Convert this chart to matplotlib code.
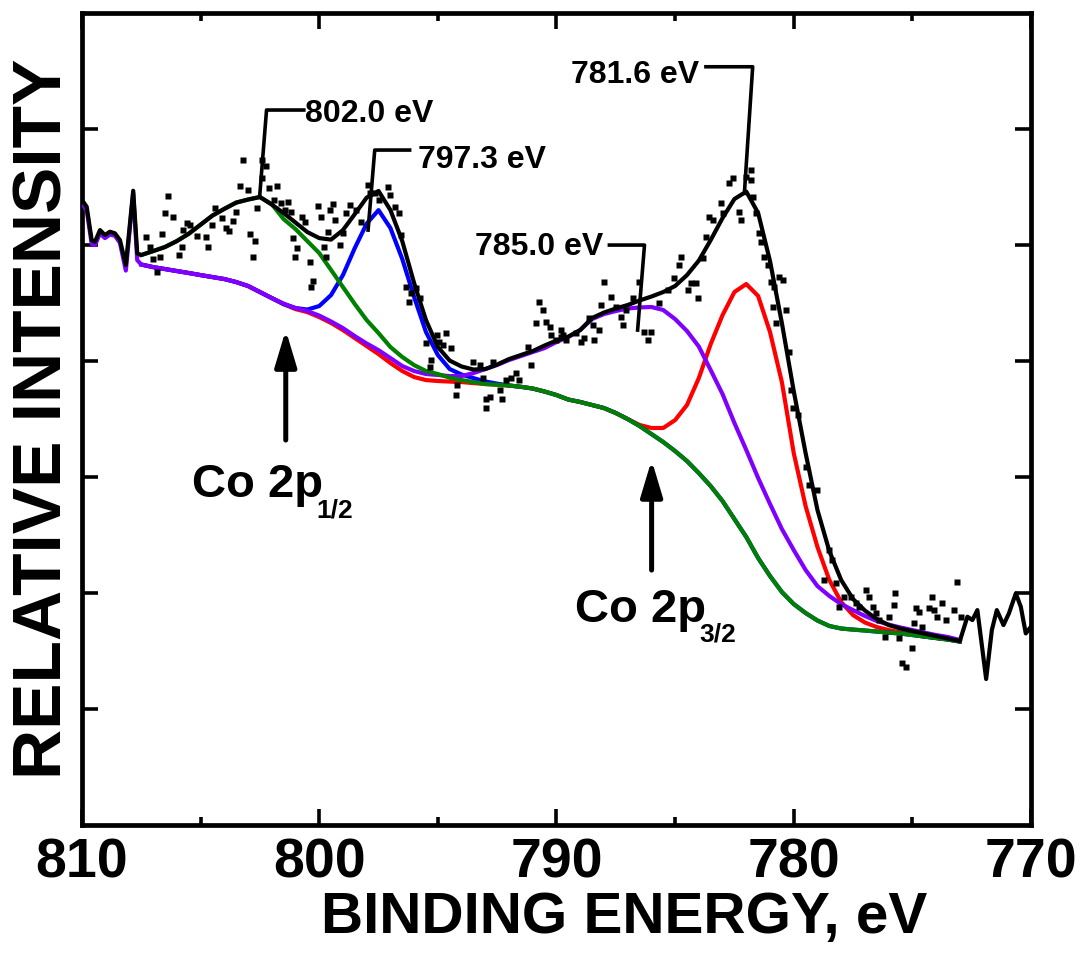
import numpy as np
import matplotlib
matplotlib.use("Agg")
import matplotlib.pyplot as plt
from matplotlib.ticker import MultipleLocator, FixedLocator

plt.rcParams['font.family'] = ['Liberation Sans', 'DejaVu Sans']
plt.rcParams['font.weight'] = 'bold'

# ---------------- data (binding energy in eV, intensity in arbitrary units) -------------
energy = [807.5, 807.0, 806.5, 806.0, 805.5, 805.0, 804.5, 804.0, 803.5, 803.0,
          802.5, 802.0, 801.5, 801.0, 800.5, 800.0, 799.5, 799.0, 798.5, 798.0,
          797.5, 797.0, 796.5, 796.0, 795.5, 795.0, 794.5, 794.0, 793.5, 793.0,
          792.5, 792.0, 791.5, 791.0, 790.5, 790.0, 789.5, 789.0, 788.5, 788.0,
          787.5, 787.0, 786.5, 786.0, 785.5, 785.0, 784.5, 784.0, 783.5, 783.0,
          782.5, 782.0, 781.5, 781.0, 780.5, 780.0, 779.5, 779.0, 778.5, 778.0,
          777.5, 777.0, 776.5, 776.0, 775.5, 775.0, 774.5, 774.0, 773.5, 773.0]

background = [4.832, 4.810, 4.793, 4.776, 4.759, 4.741, 4.724, 4.707, 4.681, 4.647,
              4.595, 4.543, 4.491, 4.448, 4.422, 4.379, 4.328, 4.267, 4.198, 4.129,
              4.060, 3.983, 3.914, 3.862, 3.836, 3.828, 3.823, 3.819, 3.810, 3.802,
              3.796, 3.789, 3.778, 3.763, 3.737, 3.707, 3.668, 3.647, 3.621, 3.595,
              3.552, 3.500, 3.440, 3.371, 3.302, 3.224, 3.138, 3.034, 2.922, 2.793,
              2.638, 2.483, 2.302, 2.147, 2.009, 1.905, 1.828, 1.763, 1.716, 1.694,
              1.685, 1.677, 1.668, 1.659, 1.651, 1.638, 1.625, 1.612, 1.599, 1.582]

# component heights above background
sat_802 = [0.082, 0.138, 0.190, 0.259, 0.336, 0.434, 0.530, 0.605, 0.685, 0.746,
           0.819, 0.810, 0.733, 0.690, 0.612, 0.552, 0.457, 0.371, 0.293, 0.224,
           0.181, 0.138, 0.121, 0.103, 0.078, 0.060, 0.034, 0.017, 0.009, 0.0,
           0, 0, 0, 0, 0, 0, 0, 0, 0, 0,
           0, 0, 0, 0, 0, 0, 0, 0, 0, 0,
           0, 0, 0, 0, 0, 0, 0, 0, 0, 0,
           0, 0, 0, 0, 0, 0, 0, 0, 0, 0]

peak_797 = [0, 0, 0, 0, 0, 0, 0, 0, 0, 0,
            0, 0, 0.0, 0.009, 0.022, 0.095, 0.241, 0.474, 0.776, 1.056,
            1.241, 1.164, 0.966, 0.690, 0.414, 0.224, 0.108, 0.065, 0.043, 0.022,
            0.009, 0, 0, 0, 0, 0, 0, 0, 0, 0,
            0, 0, 0, 0, 0, 0, 0, 0, 0, 0,
            0, 0, 0, 0, 0, 0, 0, 0, 0, 0,
            0, 0, 0, 0, 0, 0, 0, 0, 0, 0]

sat_785 = [0, 0, 0, 0, 0, 0, 0, 0, 0, 0,
           0, 0, 0.004, 0.009, 0.009, 0.013, 0.013, 0.017, 0.017, 0.022,
           0.034, 0.043, 0.043, 0.052, 0.052, 0.052, 0.047, 0.052, 0.086, 0.129,
           0.170, 0.220, 0.265, 0.315, 0.375, 0.457, 0.539, 0.621, 0.741, 0.810,
           0.879, 0.953, 1.022, 1.095, 1.138, 1.138, 1.121, 1.091, 1.000, 0.922,
           0.828, 0.750, 0.690, 0.621, 0.543, 0.466, 0.371, 0.297, 0.259, 0.211,
           0.168, 0.125, 0.091, 0.069, 0.052, 0.043, 0.034, 0.026, 0.022, 0.013]

peak_781 = [0, 0, 0, 0, 0, 0, 0, 0, 0, 0,
            0, 0, 0, 0, 0, 0, 0, 0, 0, 0,
            0, 0, 0, 0, 0, 0, 0, 0, 0, 0,
            0, 0, 0, 0, 0, 0, 0, 0, 0, 0,
            0, 0, 0.009, 0.052, 0.121, 0.267, 0.483, 0.819, 1.224, 1.603,
            1.957, 2.181, 2.259, 2.103, 1.810, 1.302, 0.922, 0.634, 0.397, 0.228,
            0.125, 0.069, 0.039, 0.022, 0.009, 0.004, 0, 0, 0, 0]

envelope = [4.914, 4.948, 4.983, 5.034, 5.099, 5.176, 5.254, 5.312, 5.366, 5.392,
            5.414, 5.349, 5.276, 5.194, 5.112, 5.060, 5.047, 5.129, 5.267, 5.409,
            5.466, 5.302, 5.034, 4.672, 4.353, 4.121, 4.004, 3.953, 3.927, 3.931,
            3.970, 4.017, 4.052, 4.086, 4.134, 4.177, 4.211, 4.267, 4.371, 4.418,
            4.453, 4.483, 4.522, 4.556, 4.595, 4.647, 4.741, 4.866, 5.043, 5.233,
            5.397, 5.461, 5.276, 4.862, 4.328, 3.741, 3.207, 2.716, 2.362, 2.112,
            1.948, 1.849, 1.776, 1.724, 1.694, 1.672, 1.651, 1.629, 1.608, 1.586]

# raw spectrum edges outside the fitted range
edge_left_E = [810.0, 809.8, 809.59, 809.45, 809.24, 809.03, 808.82, 808.61, 808.40, 808.15, 807.84, 807.67]
edge_left_y = [5.388, 5.330, 5.043, 5.028, 5.129, 5.086, 5.115, 5.101, 5.043, 4.828, 5.468, 4.928]
edge_left_y_bg = [5.36, 5.30, 5.01, 5.00, 5.10, 5.06, 5.09, 5.08, 5.02, 4.78, 5.45, 4.87]
edge_right_E = [772.68, 772.47, 772.26, 771.89, 771.65, 771.44, 771.16, 770.93, 770.64, 770.43, 770.22, 770.0]
edge_right_y = [1.796, 1.767, 1.853, 1.259, 1.681, 1.853, 1.724, 1.825, 1.997, 1.882, 1.652, 1.710]

# measured points
data_E = [807.28, 807.14, 806.64, 806.72, 807.02, 806.85, 806.51, 806.36, 806.16, 805.90,
          805.80, 805.73, 805.59, 805.45, 805.17, 804.78, 804.68, 804.50, 804.40, 804.09,
          803.91, 803.81, 803.63, 803.52, 803.35, 803.20, 803.00, 802.93, 802.72, 802.81,
          802.62, 802.43, 802.43, 802.25, 802.11, 801.76, 801.92, 801.59, 801.31, 801.45,
          801.21, 801.10, 800.93, 801.02, 800.71, 800.60, 800.40, 800.26, 800.33, 800.03,
          799.91, 799.80, 799.73, 799.56, 799.42, 799.35, 799.63, 799.14, 799.00, 798.86,
          798.72, 798.43, 798.22, 797.95, 797.87, 797.66, 797.48, 797.10, 797.03, 796.82,
          796.64, 796.54, 796.33, 796.22, 796.12, 795.91, 795.77, 795.49, 795.28, 795.35,
          795.04, 794.96, 794.79, 794.64, 794.43, 794.20, 794.25, 793.52, 793.24, 793.10,
          792.96, 792.82, 792.68, 792.40, 792.29, 792.12, 791.91, 791.70, 791.56, 791.21,
          791.07, 790.85, 790.72, 790.58, 790.43, 790.29, 790.22, 790.01, 789.80, 789.59,
          792.96, 789.80, 789.73, 789.17, 788.96, 788.82, 788.61, 788.47, 788.40, 788.19,
          788.12, 787.98, 787.70, 787.49, 787.28, 787.21, 787.07, 786.79, 786.51, 786.29,
          786.16, 786.01, 785.66, 785.31, 785.03, 784.82, 784.75, 784.47, 784.33, 784.12,
          784.05, 783.84, 783.70, 783.56, 783.42, 783.07, 783.00, 782.72, 782.58, 782.29,
          782.22, 781.80, 781.80, 781.73, 782.01, 781.59, 781.45, 781.38, 781.24, 781.10,
          780.96, 780.82, 780.61, 780.47, 780.33, 780.89, 780.75, 780.19, 780.12, 780.05,
          779.84, 779.49, 779.35, 779.04, 778.72, 778.51, 778.37, 778.22, 778.08, 777.87,
          777.59, 777.38, 777.24, 776.96, 776.82, 776.68, 776.54, 776.40, 776.15, 775.98,
          775.73, 775.77, 775.56, 775.42, 775.28, 775.02, 774.93, 774.86, 774.72, 774.58,
          774.29, 774.18, 774.08, 773.95, 773.74, 773.59, 773.24, 773.10, 772.96]
data_y = [5.066, 4.985, 5.092, 4.899, 4.877, 4.770, 5.278, 5.422, 5.244, 4.914,
          4.980, 5.129, 5.187, 5.172, 5.078, 5.072, 4.980, 5.172, 5.316, 5.235,
          5.144, 5.123, 5.209, 5.287, 5.511, 5.733, 5.474, 5.092, 5.034, 4.899,
          5.316, 5.733, 5.575, 5.681, 5.489, 5.509, 5.388, 5.359, 5.371, 5.302,
          5.287, 5.063, 4.972, 4.899, 5.244, 5.201, 4.856, 4.692, 4.641, 5.336,
          5.239, 4.980, 4.899, 5.302, 5.353, 5.216, 5.115, 5.000, 5.101, 5.273,
          5.345, 5.302, 5.201, 5.517, 5.446, 5.446, 5.388, 5.503, 5.431, 5.330,
          5.278, 5.086, 4.641, 4.511, 4.584, 4.627, 4.541, 4.153, 4.009, 3.951,
          4.224, 4.166, 4.138, 4.239, 4.109, 3.793, 3.707, 3.994, 3.966, 3.851,
          3.670, 3.692, 3.994, 3.750, 3.670, 3.836, 3.851, 3.894, 3.836, 4.123,
          3.966, 4.325, 4.511, 4.440, 4.339, 4.296, 4.224, 4.181, 4.209, 4.181,
          3.592, 4.267, 4.224, 4.239, 4.166, 4.196, 4.368, 4.310, 4.181, 4.267,
          4.483, 4.684, 4.554, 4.468, 4.382, 4.310, 4.440, 4.541, 4.681, 4.253,
          4.181, 4.253, 4.497, 4.612, 4.713, 4.828, 4.899, 4.612, 4.670, 4.670,
          4.541, 4.885, 5.072, 5.244, 5.216, 5.359, 5.273, 5.532, 5.575, 5.287,
          5.216, 5.647, 5.560, 5.416, 5.589, 5.273, 5.101, 5.029, 4.899, 4.828,
          4.684, 4.641, 4.727, 4.698, 4.440, 4.468, 4.325, 4.080, 3.750, 3.592,
          3.534, 3.089, 2.931, 2.888, 2.112, 2.371, 2.284, 2.084, 1.882, 1.968,
          1.968, 1.911, 1.882, 2.026, 1.968, 1.882, 1.825, 1.767, 1.623, 1.796,
          1.997, 1.897, 1.609, 1.394, 1.365, 1.523, 1.739, 1.868, 1.839, 1.709,
          1.868, 1.968, 1.853, 1.796, 1.911, 1.767, 1.853, 2.097, 1.796]

x_ticks = [810, 800, 790, 780, 770]
x_tick_labels = ['810', '800', '790', '780', '770']
y_ticks = [1, 2, 3, 4, 5, 6]

# ---------------- figure ----------------
fig = plt.figure(figsize=(10.84, 9.67), dpi=100)
ax = fig.add_axes([0.0756, 0.1468, 0.8755, 0.8397])

E = np.array(energy)
bg = np.array(background)
lw = 3.0

ax.plot(E, bg + np.array(peak_781), color='#ff0000', lw=lw, zorder=2)
ax.plot(E, bg + np.array(peak_797), color='#0000ff', lw=lw, zorder=3)
ax.plot(np.concatenate([edge_left_E, E]),
        np.concatenate([edge_left_y_bg, bg + np.array(sat_785)]),
        color='#8000ff', lw=lw, zorder=4)
ax.plot(E, bg + np.array(sat_802), color='#008000', lw=lw, zorder=5)
ax.plot(np.concatenate([edge_left_E, E, edge_right_E]),
        np.concatenate([edge_left_y, envelope, edge_right_y]),
        color='black', lw=lw, zorder=6, solid_joinstyle='round')
ax.plot(data_E, data_y, 's', ms=3.8, color='black', mec='none', zorder=7)

ax.set_xlim(810, 770)
ax.set_ylim(0, 7)
ax.set_xticks(x_ticks, labels=x_tick_labels, fontsize=40, fontweight='bold')
ax.xaxis.set_minor_locator(MultipleLocator(5))
ax.yaxis.set_major_locator(FixedLocator(y_ticks))
ax.tick_params(axis='both', which='both', direction='in', top=True, right=True,
               width=2.6, color='black')
ax.tick_params(which='major', length=11.5)
ax.tick_params(which='minor', length=6)
ax.tick_params(axis='x', pad=9)
ax.tick_params(axis='y', labelleft=False)
for sp in ax.spines.values():
    sp.set_linewidth(3.4)

ax.set_xlabel('BINDING ENERGY, eV', fontsize=42, fontweight='bold')
ax.xaxis.set_label_coords(0.571, -0.081)
ax.set_ylabel('RELATIVE INTENSITY', fontsize=50, fontweight='bold', va='center')
ax.yaxis.set_label_coords(-0.040, 0.5)

# peak labels with leaders
ann_kw = dict(fontsize=23, fontweight='bold', ha='left', va='baseline', zorder=8)
lead_kw = dict(color='black', lw=2.6, zorder=8, solid_joinstyle='round')
ax.plot([800.65, 802.22, 802.51], [6.164, 6.164, 5.42], **lead_kw)
ax.text(800.60, 6.063, '802.0 eV', **ann_kw)
ax.plot([796.19, 797.66, 797.94], [5.819, 5.819, 5.129], **lead_kw)
ax.text(795.84, 5.661, '797.3 eV', **ann_kw)
ax.plot([787.77, 786.29, 786.58], [5.0, 5.0, 4.267], **lead_kw)
ax.text(793.45, 4.914, '785.0 eV', **ann_kw)
ax.plot([783.70, 781.73, 782.08], [6.537, 6.537, 5.446], **lead_kw)
ax.text(789.38, 6.399, '781.6 eV', **ann_kw)

# arrows and Co 2p labels
arr = dict(arrowstyle='-|>,head_length=1.1,head_width=0.33', mutation_scale=20,
           lw=3.6, color='black', shrinkA=0, shrinkB=0)
ax.annotate('', xy=(801.41, 4.267), xytext=(801.41, 3.319), arrowprops=arr)
ax.annotate('', xy=(785.99, 3.147), xytext=(785.99, 2.198), arrowprops=arr)
ax.text(805.38, 2.830, 'Co 2p', fontsize=34, fontweight='bold', ha='left', va='baseline')
ax.text(800.10, 2.655, '1/2', fontsize=19, fontweight='bold', ha='left', va='baseline')
ax.text(789.24, 1.753, 'Co 2p', fontsize=34, fontweight='bold', ha='left', va='baseline')
ax.text(783.98, 1.580, '3/2', fontsize=19, fontweight='bold', ha='left', va='baseline')

fig.savefig('out.png', dpi=100)
